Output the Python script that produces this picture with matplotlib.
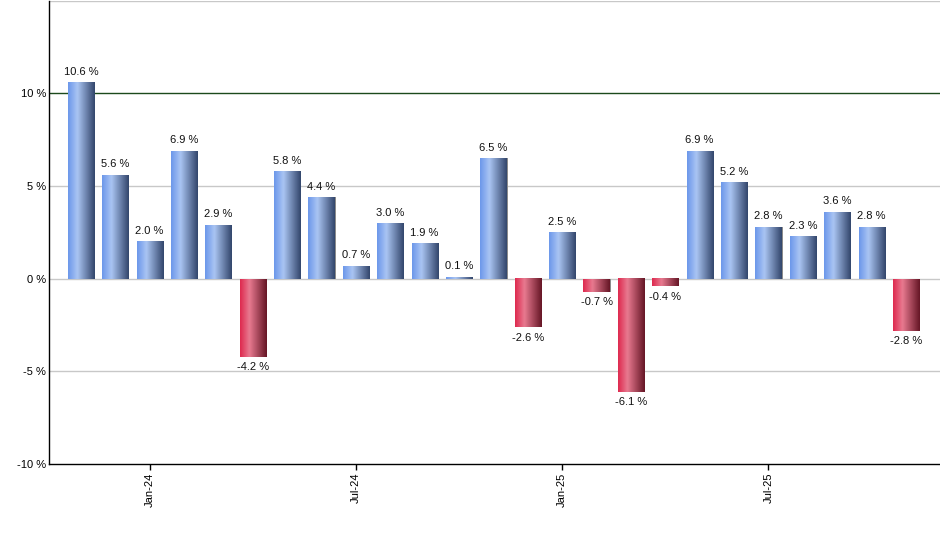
import matplotlib.pyplot as plt
import numpy as np
from matplotlib.colors import LinearSegmentedColormap

plt.rcParams['font.family'] = ['Liberation Sans', 'DejaVu Sans']

# monthly returns, Nov-23 .. Nov-25
months = ['Nov-23', 'Dec-23', 'Jan-24', 'Feb-24', 'Mar-24', 'Apr-24', 'May-24',
          'Jun-24', 'Jul-24', 'Aug-24', 'Sep-24', 'Oct-24', 'Nov-24', 'Dec-24',
          'Jan-25', 'Feb-25', 'Mar-25', 'Apr-25', 'May-25', 'Jun-25', 'Jul-25',
          'Aug-25', 'Sep-25', 'Oct-25', 'Nov-25']
returns = [10.6, 5.6, 2.0, 6.9, 2.9, -4.2, 5.8, 4.4, 0.7, 3.0, 1.9, 0.1, 6.5,
           -2.6, 2.5, -0.7, -6.1, -0.4, 6.9, 5.2, 2.8, 2.3, 3.6, 2.8, -2.8]
tick_months = ['Jan-24', 'Jul-24', 'Jan-25', 'Jul-25']
y_ticks = [-10, -5, 0, 5, 10]

blue_cmap = LinearSegmentedColormap.from_list(
    'blue', [(0, '#6c97ea'), (0.35, '#aac5f3'), (1, '#33466c')])
red_cmap = LinearSegmentedColormap.from_list(
    'red', [(0, '#de2a4f'), (0.35, '#e87a90'), (1, '#661626')])

fig = plt.figure(figsize=(9.4, 5.5), dpi=100)
ax = fig.add_axes([0.052, 0.156, 0.948, 0.843])

x = np.arange(len(months))
width = 0.76
grad = np.linspace(0, 1, 64).reshape(1, -1)

for xi, v in zip(x, returns):
    cmap = blue_cmap if v >= 0 else red_cmap
    # little grey shadow on the right side
    ax.bar(xi + 0.03, v, width, color='#8c8c8c', zorder=2)
    ax.imshow(grad, cmap=cmap, aspect='auto', interpolation='bicubic',
              extent=(xi - width / 2, xi + width / 2, 0, v), zorder=3)
    if v >= 0:
        ax.annotate(f'{v:.1f} %', (xi, v), xytext=(0, 4), textcoords='offset points',
                    ha='center', va='bottom', fontsize=8, color='#111111')
    else:
        ax.annotate(f'{v:.1f} %', (xi, v), xytext=(0, -4), textcoords='offset points',
                    ha='center', va='top', fontsize=8, color='#111111')

for g in [-5, 0, 5, 15]:
    ax.axhline(g, color='#c8c8c8', lw=1, zorder=1)
ax.axhline(10, color='#1c4a1c', lw=1, zorder=1)

ax.set_xlim(-0.93, 24.99)
ax.set_ylim(-10, 15)
ax.set_yticks(y_ticks)
ax.set_yticklabels([f'{t} %' for t in y_ticks], fontsize=8)
ax.tick_params(axis='y', length=0, pad=2)
ax.set_xticks([months.index(m) for m in tick_months])
ax.set_xticklabels(tick_months, rotation=90, fontsize=8)
ax.tick_params(axis='x', length=4, width=1, color='black', pad=2)

for s in ['top', 'right']:
    ax.spines[s].set_visible(False)
for s in ['left', 'bottom']:
    ax.spines[s].set_linewidth(1)
    ax.spines[s].set_color('black')

fig.savefig('out.png', dpi=100)
